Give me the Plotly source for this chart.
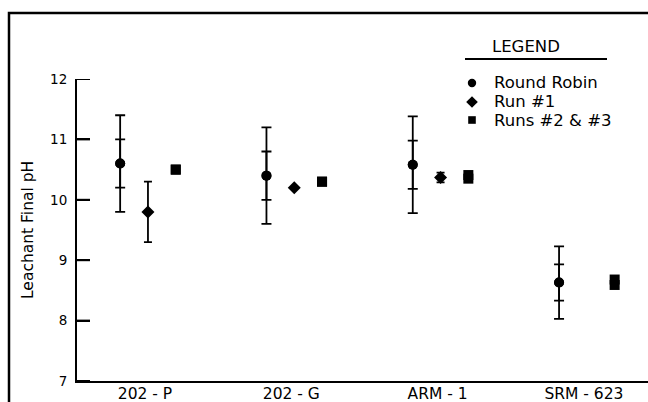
import plotly.graph_objects as go

# ---- data ----
categories = ["202 - P", "202 - G", "ARM - 1", "SRM - 623"]
round_robin = [10.6, 10.4, 10.58, 8.63]
rr_inner_err = [0.4, 0.4, 0.4, 0.3]
rr_outer_err = [0.8, 0.8, 0.8, 0.6]
run1 = [9.8, 10.2, 10.37, None]
run1_err = [0.5, 0.0, 0.08, 0.0]
run2 = [10.5, 10.3, 10.35, 8.59]
run3 = [10.5, 10.3, 10.41, 8.68]
y_ticks = [7, 8, 9, 10, 11, 12]
legend_labels = ["Round Robin", "Run #1", "Runs #2 & #3"]

# ---- layout helpers ----
W, H = 648, 402
L, R, T, B = 77, 0, 79, 21
pw, ph = W - L - R, H - T - B
idx = list(range(len(categories)))
off_rr, off_r1, off_r23 = -0.17, 0.02, 0.21


def px_x(p):
    return (p - L) / pw


def px_y(p):
    return (H - B - p) / ph


FONT = "DejaVu Sans, Verdana, sans-serif"
INK = "#000000"

fig = go.Figure()

fig.add_trace(go.Scatter(
    x=[i + off_rr for i in idx], y=round_robin, mode="markers",
    name=legend_labels[0],
    marker=dict(symbol="circle", size=10, color=INK),
    error_y=dict(type="data", array=rr_outer_err, visible=True,
                 color=INK, thickness=1.8, width=5),
))
fig.add_trace(go.Scatter(
    x=[i + off_rr for i in idx], y=round_robin, mode="markers",
    name=legend_labels[0] + " (inner)", hoverinfo="skip",
    marker=dict(symbol="circle", size=10, color=INK),
    error_y=dict(type="data", array=rr_inner_err, visible=True,
                 color=INK, thickness=1.8, width=5),
))
fig.add_trace(go.Scatter(
    x=[i + off_r1 for i in idx], y=run1, mode="markers",
    name=legend_labels[1],
    marker=dict(symbol="diamond", size=10, color=INK),
    error_y=dict(type="data", array=run1_err, visible=True,
                 color=INK, thickness=1.8, width=4),
))
fig.add_trace(go.Scatter(
    x=[i + off_r23 for i in idx], y=run2, mode="markers",
    name=legend_labels[2],
    marker=dict(symbol="square", size=10, color=INK),
))
fig.add_trace(go.Scatter(
    x=[i + off_r23 for i in idx], y=run3, mode="markers",
    name=legend_labels[2] + " (run 3)",
    marker=dict(symbol="square", size=10, color=INK),
))

x_left = -0.465
x_right = x_left + pw / 146.3

# y-axis inside tick marks, placed on the y scale
tick_shapes = [
    dict(type="line", xref="paper", yref="y", x0=0, x1=13 / pw, y0=v, y1=v,
         line=dict(color=INK, width=2), layer="above")
    for v in y_ticks
]

# hand-drawn legend key (matches the reference's compact spacing)
key_x = 472
key_y = [83, 102, 120]
r = 4.2
d = 5.8
s = 3.8
legend_shapes = [
    dict(type="circle", xref="paper", yref="paper",
         x0=px_x(key_x - r), x1=px_x(key_x + r),
         y0=px_y(key_y[0] + r), y1=px_y(key_y[0] - r),
         fillcolor=INK, line=dict(width=0)),
    dict(type="path", xref="paper", yref="paper",
         path=(f"M{px_x(key_x - d)},{px_y(key_y[1])} "
               f"L{px_x(key_x)},{px_y(key_y[1] - d)} "
               f"L{px_x(key_x + d)},{px_y(key_y[1])} "
               f"L{px_x(key_x)},{px_y(key_y[1] + d)} Z"),
         fillcolor=INK, line=dict(width=0)),
    dict(type="rect", xref="paper", yref="paper",
         x0=px_x(key_x - s), x1=px_x(key_x + s),
         y0=px_y(key_y[2] + s), y1=px_y(key_y[2] - s),
         fillcolor=INK, line=dict(width=0)),
]
legend_texts = [
    dict(text=t, xref="paper", yref="paper", x=px_x(492), y=px_y(yy),
         xanchor="left", yanchor="middle", showarrow=False,
         font=dict(family=FONT, size=16.5, color=INK))
    for t, yy in zip(legend_labels, key_y)
]

fig.update_layout(
    width=W, height=H,
    margin=dict(l=L, r=R, t=T, b=B, pad=0),
    paper_bgcolor="white", plot_bgcolor="white",
    font=dict(family=FONT, size=15, color=INK),
    showlegend=False,
    xaxis=dict(
        range=[x_left, x_right], tickmode="array", tickvals=idx,
        ticktext=categories, ticks="", showline=True, linewidth=2,
        linecolor=INK, showgrid=False, zeroline=False, automargin=False,
        tickfont=dict(family=FONT, size=15.5, color=INK),
    ),
    yaxis=dict(
        range=[7, 12], tickmode="array", tickvals=y_ticks,
        ticks="inside", ticklen=13, tickwidth=2, tickcolor=INK,
        showline=True, linewidth=2, linecolor=INK, showgrid=False,
        zeroline=False, automargin=False,
        tickfont=dict(family=FONT, size=13.5, color=INK),
    ),
    shapes=[
        dict(type="rect", xref="paper", yref="paper",
             x0=px_x(9), x1=1.05, y0=px_y(420), y1=px_y(13),
             line=dict(color=INK, width=2.5), fillcolor="rgba(0,0,0,0)"),
        dict(type="line", xref="paper", yref="paper",
             x0=px_x(465), x1=px_x(607), y0=px_y(59), y1=px_y(59),
             line=dict(color=INK, width=2)),
    ] + tick_shapes + legend_shapes,
    annotations=[
        dict(text="Leachant Final pH", xref="paper", yref="paper",
             x=px_x(28), y=px_y(230), textangle=-90, showarrow=False,
             xanchor="center", yanchor="middle",
             font=dict(family=FONT, size=15.5, color=INK)),
        dict(text="LEGEND", xref="paper", yref="paper",
             x=px_x(526), y=px_y(47), showarrow=False,
             xanchor="center", yanchor="middle",
             font=dict(family=FONT, size=16.5, color=INK)),
    ] + legend_texts,
)

try:
    fig.update_yaxes(ticklabelstandoff=5)
except Exception:
    pass
try:
    fig.update_xaxes(ticklabelstandoff=-3)
except Exception:
    pass

fig.write_html("out.html")
